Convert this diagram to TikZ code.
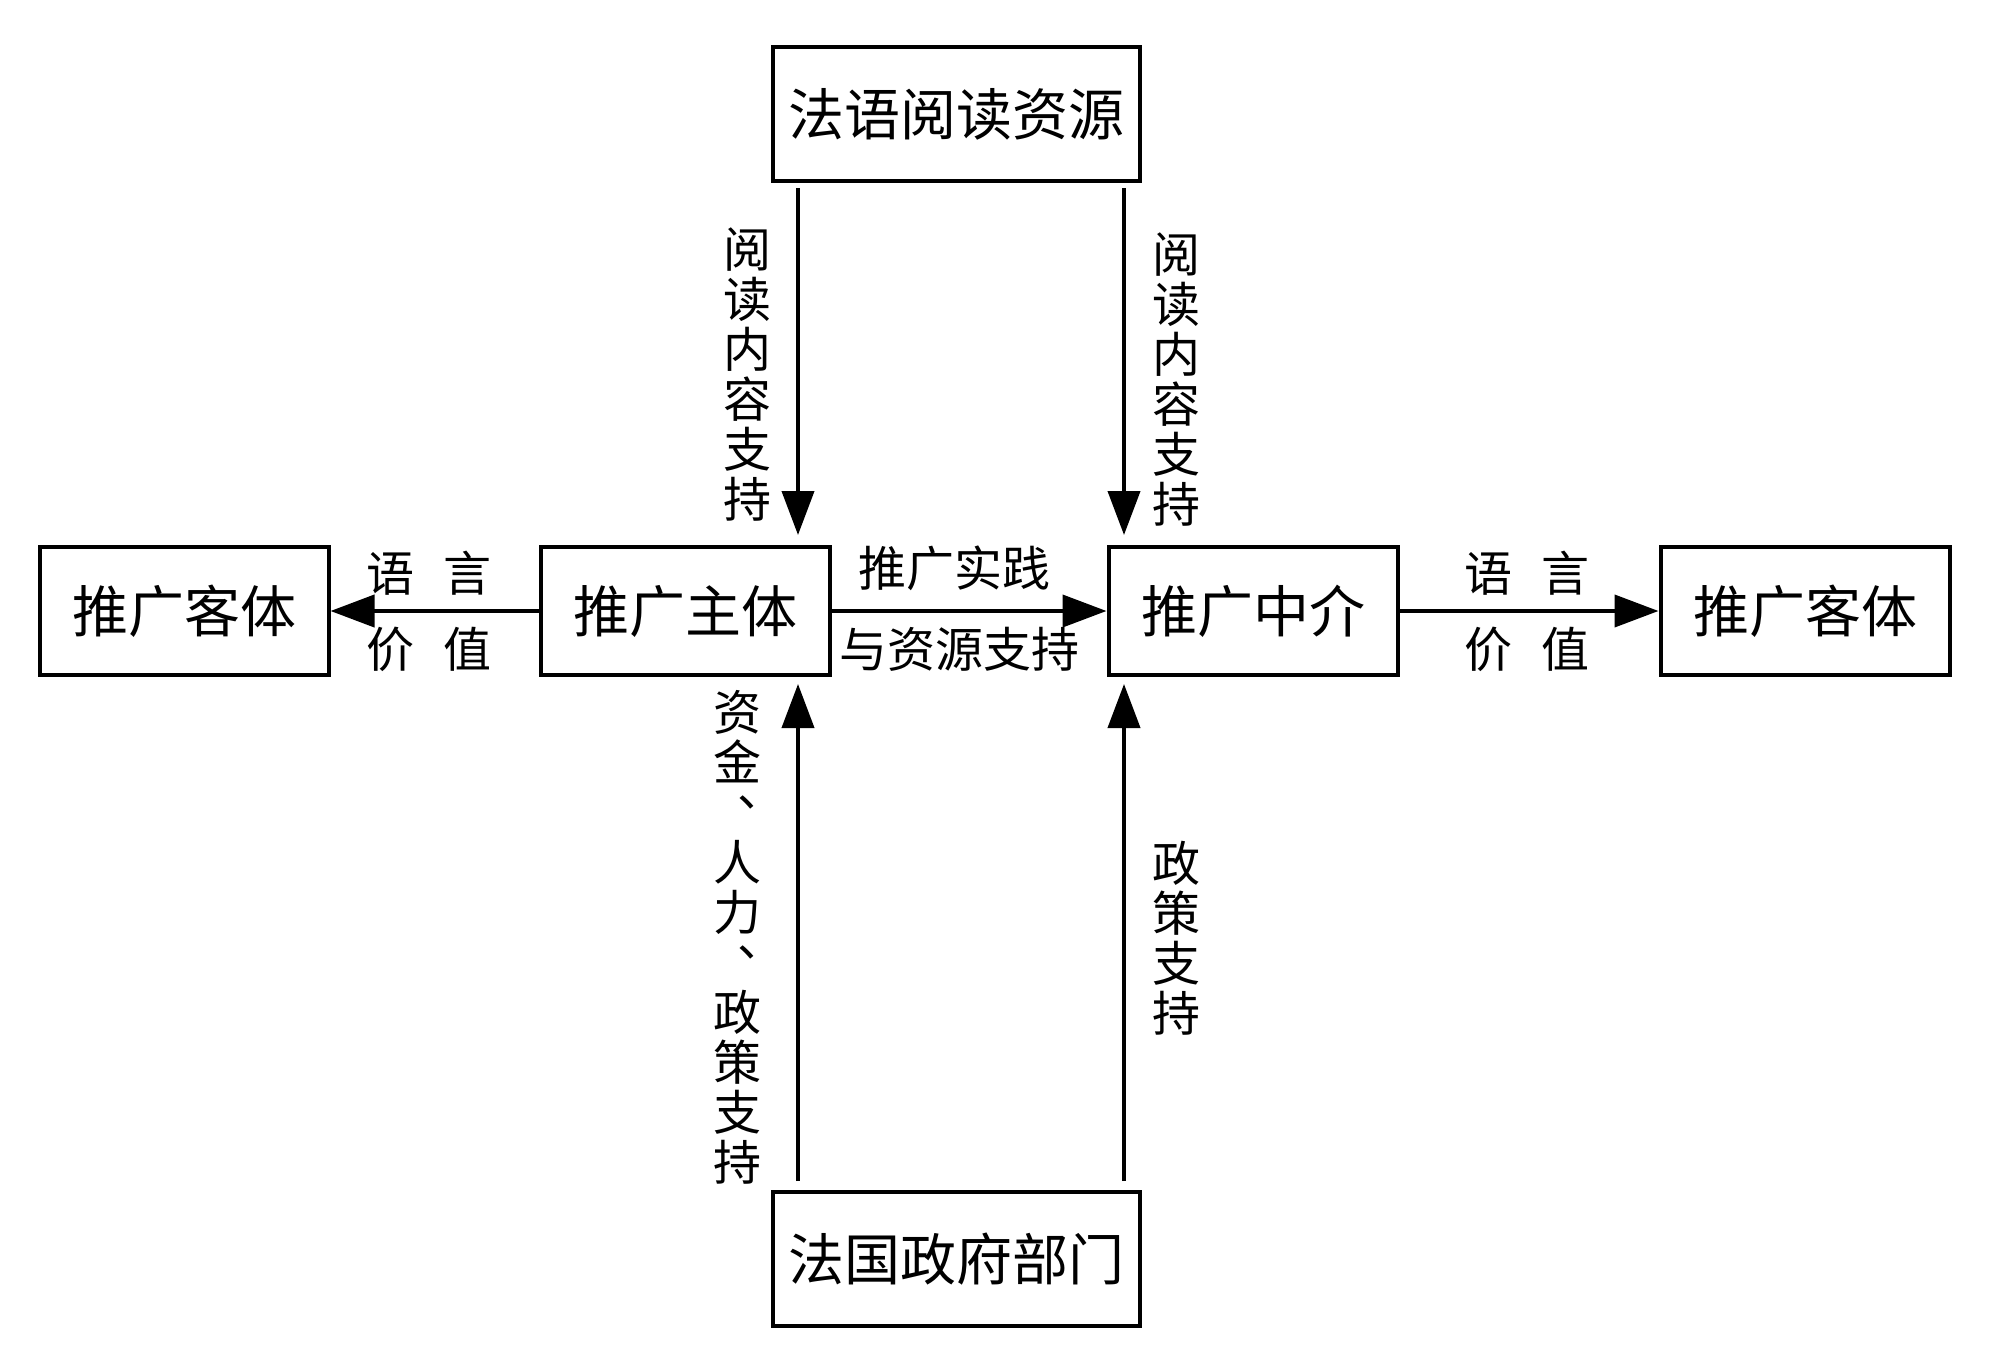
\documentclass[tikz,border=0pt]{standalone}
\usepackage{fontspec}
\newfontfamily\cjk{Noto Sans CJK SC}
\usetikzlibrary{arrows.meta}
\newcommand{\vcomma}{\makebox[1em][l]{\hspace{0.5em}\raisebox{0.5em}[0pt][0pt]{、}}}
\begin{document}
\begin{tikzpicture}[x=0.5pt,y=-0.5pt,
  box/.style={draw,line width=2pt,minimum width=#1*0.5pt,minimum height=128*0.5pt,inner sep=0pt,font=\cjk\fontsize{28pt}{30pt}\selectfont},
  box/.default=289,
  lbl/.style={inner sep=0pt,font=\cjk\fontsize{24pt}{25pt}\selectfont,align=center},
  arr/.style={line width=2pt,-{Triangle[length=22pt,width=16pt]}}]
\useasboundingbox (0,0) rectangle (1992,1359);
\node[box=367,minimum height=134*0.5pt] (src) at (956,114) {法语阅读资源};
\node[box=367,minimum height=134*0.5pt] (gov) at (956,1259) {法国政府部门};
\node[box] (objL) at (184,611) {推广客体};
\node[box] (subj) at (685,611) {推广主体};
\node[box] (med) at (1253,611) {推广中介};
\node[box] (objR) at (1805,611) {推广客体};
\coordinate (s1) at (798,188); \coordinate (t1) at (798,535);
\coordinate (s2) at (1124,188); \coordinate (t2) at (1124,535);
\coordinate (g1) at (798,1181); \coordinate (h1) at (798,684);
\coordinate (g2) at (1124,1181); \coordinate (h2) at (1124,684);
\draw[arr] (s1) -- (t1);
\draw[arr] (s2) -- (t2);
\draw[arr] (g1) -- (h1);
\draw[arr] (g2) -- (h2);
\draw[arr] (subj.east) -- (med.west);
\draw[arr] (subj.west) -- (objL.east);
\draw[arr] (med.east) -- (objR.west);
\node[lbl] (l1) at (747,375) {阅\\读\\内\\容\\支\\持};
\node[lbl] (l2) at (1176,380) {阅\\读\\内\\容\\支\\持};
\node[lbl] (l3) at (737,937) {资\\金\\\vcomma\\人\\力\\\vcomma\\政\\策\\支\\持};
\node[lbl] (l4) at (1176,938) {政\\策\\支\\持};
\node[lbl] (l5) at (429,573) {语\hspace{0.6em}言};
\node[lbl] (l6) at (429,649) {价\hspace{0.6em}值};
\node[lbl] (l7) at (954,568) {推广实践};
\node[lbl] (l8) at (959,649) {与资源支持};
\node[lbl] (l9) at (1527,573) {语\hspace{0.6em}言};
\node[lbl] (l10) at (1527,649) {价\hspace{0.6em}值};
\end{tikzpicture}
\end{document}
